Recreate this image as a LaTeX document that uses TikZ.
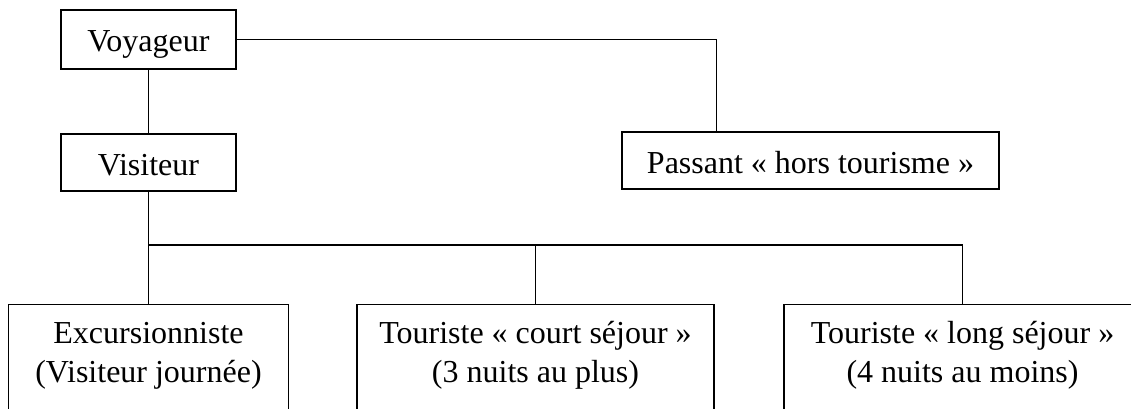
\documentclass[tikz,border=0pt]{standalone}
\usepackage{fontspec}
\setmainfont{Liberation Serif}
\begin{document}
\begin{tikzpicture}[x=1pt,y=-1pt,
  line width=1.4pt,
  box/.style={draw, rectangle, inner sep=0pt, text height=30pt, text depth=5pt,
    font=\fontsize{32}{39}\selectfont},
  frame/.style={draw, rectangle, inner sep=0pt, minimum height=200pt},
  lbl/.style={inner sep=0pt, font=\fontsize{32}{39}\selectfont, anchor=base}]
\useasboundingbox (0,0) rectangle (1131,409);
\fill[white] (0,0) rectangle (1131,409);
\clip (0,0) rectangle (1131,409);
\node[box, minimum width=175pt, minimum height=59pt] (voy) at (148.5,39.5) {Voyageur};
\node[box, minimum width=175pt, minimum height=57pt] (vis) at (148.5,162.5) {Visiteur};
\node[box, minimum width=377pt, minimum height=57pt] (pas) at (810.5,160.5) {Passant « hors tourisme »};
\node[frame, minimum width=280pt, anchor=north] (exc) at (148.5,304) {};
\node[frame, minimum width=357pt, anchor=north] (court) at (535.5,304) {};
\node[frame, minimum width=357pt, anchor=north] (long) at (962.5,304) {};
\node[lbl] (exct) at ([yshift=-39pt]exc.north) {\begin{tabular}[t]{@{}c@{}}Excursionniste\\(Visiteur journée)\end{tabular}};
\node[lbl] (courtt) at ([yshift=-39pt]court.north) {\begin{tabular}[t]{@{}c@{}}Touriste « court séjour »\\(3 nuits au plus)\end{tabular}};
\node[lbl] (longt) at ([yshift=-39pt]long.north) {\begin{tabular}[t]{@{}c@{}}Touriste « long séjour »\\(4 nuits au moins)\end{tabular}};
\coordinate (bus) at (0,245);
\draw (voy) -- (vis);
\draw (voy.east) -| ([xshift=95pt]pas.north west);
\draw (vis.south) -- (vis.south |- bus) -| (long.north);
\draw (vis.south |- bus) -- (exc.north);
\draw (court.north |- bus) -- (court.north);
\end{tikzpicture}
\end{document}
